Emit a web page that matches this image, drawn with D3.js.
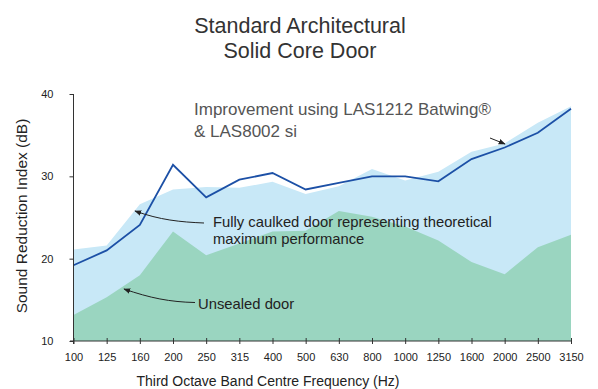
<!DOCTYPE html>
<html><head><meta charset="utf-8">
<script src="https://cdn.jsdelivr.net/npm/d3@7"></script>
<style>body{margin:0;background:#fff}svg{display:block}text{font-family:"Liberation Sans",Arial,sans-serif}</style>
</head><body><svg id="c" width="598" height="389"></svg>
<script>
const categories = ["100","125","160","200","250","315","400","500","630","800","1000","1250","1600","2000","2500","3150"];
const caulked = [21.1,21.6,26.6,28.4,28.7,28.6,29.35,27.85,28.8,30.9,29.5,30.55,33.0,34.0,36.5,38.5];
const unsealed = [13.15,15.3,18.0,23.3,20.4,21.85,23.3,23.4,25.8,25.1,23.9,22.2,19.6,18.1,21.4,22.9];
const improved = [19.2,21.0,24.1,31.4,27.45,29.6,30.4,28.4,29.2,30.0,30.0,29.4,32.1,33.5,35.3,38.2];
const yTicks = [10,20,30,40];

const svg = d3.select("#c");
const x = d3.scalePoint().domain(categories).range([73.5,571]);
const y = d3.scaleLinear().domain([10,40]).range([341,94]);

const area = vals => d3.area().x((d,i)=>x(categories[i])).y0(y(10)).y1(d=>y(d))(vals);
svg.append("path").attr("d",area(caulked)).attr("fill","#c8e8f7");
svg.append("path").attr("d",area(unsealed)).attr("fill","#9ad5c0");
svg.append("path").attr("d",d3.line().x((d,i)=>x(categories[i])).y(d=>y(d))(improved))
  .attr("fill","none").attr("stroke","#1c50a6").attr("stroke-width",1.8);

// axes
const yAxis = svg.append("g").attr("transform","translate(73.5,0)")
  .call(d3.axisLeft(y).tickValues(yTicks).tickSize(4).tickPadding(16));
const xAxis = svg.append("g").attr("transform","translate(0,341)")
  .call(d3.axisBottom(x).tickSize(3).tickPadding(9));
xAxis.selectAll(".tick line").attr("y1",-3).attr("y2",3);
[yAxis,xAxis].forEach(g=>{
  g.select(".domain").attr("stroke","#333");
  g.selectAll(".tick line").attr("stroke","#333");
  g.selectAll("text").attr("fill","#222").style("font-size","11px").style("font-family","Liberation Sans, Arial, sans-serif");
});
yAxis.select(".domain").attr("d","M0,94V344");
xAxis.select(".domain").attr("d","M70,0H571");

// titles
svg.append("text").attr("x",300).attr("y",33).attr("text-anchor","middle").attr("fill","#333").style("font-size","21.5px").text("Standard Architectural");
svg.append("text").attr("x",300).attr("y",58).attr("text-anchor","middle").attr("fill","#333").style("font-size","21.5px").text("Solid Core Door");
svg.append("text").attr("x",268).attr("y",386).attr("text-anchor","middle").attr("fill","#222").style("font-size","14px").text("Third Octave Band Centre Frequency (Hz)");
svg.append("text").attr("transform","translate(27,216) rotate(-90)").attr("text-anchor","middle").attr("fill","#222").style("font-size","15.5px").text("Sound Reduction Index (dB)");

// annotations
svg.append("text").attr("x",194).attr("y",115).attr("fill","#555").style("font-size","17px").text("Improvement using LAS1212 Batwing®");
svg.append("text").attr("x",194).attr("y",137).attr("fill","#555").style("font-size","17px").text("& LAS8002 si");
svg.append("text").attr("x",213).attr("y",227).attr("fill","#222").style("font-size","14.8px").text("Fully caulked door representing theoretical");
svg.append("text").attr("x",213).attr("y",243.5).attr("fill","#222").style("font-size","14.8px").text("maximum performance");
svg.append("text").attr("x",198).attr("y",308.5).attr("fill","#222").style("font-size","14.8px").text("Unsealed door");

const defs = svg.append("defs");
defs.append("marker").attr("id","ah").attr("viewBox","0 0 10 10").attr("refX",9).attr("refY",5)
  .attr("markerWidth",7).attr("markerHeight",7).attr("orient","auto")
  .append("path").attr("d","M0,1L10,5L0,9z").attr("fill","#222");
const arrow = (d)=>svg.append("path").attr("d",d).attr("fill","none").attr("stroke","#222").attr("stroke-width",1).attr("marker-end","url(#ah)");
arrow("M204,223 C180,222 160,220 135,211");
arrow("M195,302.5 C170,302 150,298 124,289");
arrow("M490,138 L505,144");
</script></body></html>
